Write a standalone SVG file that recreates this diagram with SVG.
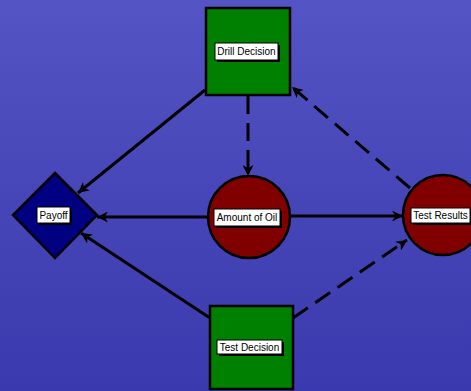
<svg xmlns="http://www.w3.org/2000/svg" width="471" height="391" viewBox="0 0 471 391">
  <defs>
    <linearGradient id="bg" x1="0" y1="0" x2="0" y2="1">
      <stop offset="0" stop-color="#5454c4"/>
      <stop offset="0.5" stop-color="#4646b8"/>
      <stop offset="1" stop-color="#3a3aae"/>
    </linearGradient>
    <marker id="arr" viewBox="0 0 10 10" refX="10" refY="5" markerWidth="11" markerHeight="11" markerUnits="userSpaceOnUse" orient="auto">
      <path d="M0,0 L10,5 L0,10 L3,5 Z" fill="#000"/>
    </marker>
  </defs>
  <style>
    .sq { fill: #008000; stroke: #000; stroke-width: 2.5; }
    .ci { fill: #800000; stroke: #000; stroke-width: 2.5; }
    .di { fill: #000080; stroke: #000; stroke-width: 2.5; }
    .lb { fill: #fff; stroke: #000; stroke-width: 1; }
    .sh { fill: #000; }
    .tx { font-family: "Liberation Sans", Arial, sans-serif; font-size: 10px; fill: #000; text-anchor: middle; dominant-baseline: central; }
    .ln { stroke: #000; stroke-width: 3; fill: none; marker-end: url(#arr); }
    .da { stroke-dasharray: 18 9; }
  </style>
  <rect width="471" height="391" fill="url(#bg)"/>
  <g id="connectors">
    <line class="ln" x1="205" y1="90" x2="78" y2="193"/>
    <line class="ln da" x1="248" y1="96" x2="248" y2="176"/>
    <line class="ln da" x1="410" y1="188" x2="292" y2="87"/>
    <line class="ln" x1="208" y1="217" x2="97" y2="217"/>
    <line class="ln" x1="291" y1="216" x2="403" y2="216"/>
    <line class="ln" x1="210" y1="318" x2="81" y2="233"/>
    <line class="ln da" x1="293" y1="318" x2="407" y2="240"/>
  </g>
  <g id="drill-decision">
    <rect class="sq" x="206" y="8" width="84" height="87"/>
    <rect class="sh" x="217" y="45" width="63" height="17"/>
    <rect class="lb" x="215" y="43" width="63" height="17"/>
    <text class="tx" x="246.5" y="51.5">Drill Decision</text>
  </g>
  <g id="payoff">
    <polygon class="di" points="55,173 97,215 55,258 13,215"/>
    <rect class="sh" x="39" y="209" width="33" height="16"/>
    <rect class="lb" x="37" y="207" width="33" height="16"/>
    <text class="tx" x="53.5" y="215">Payoff</text>
  </g>
  <g id="amount-of-oil">
    <circle class="ci" cx="249" cy="217" r="41"/>
    <rect class="sh" x="216" y="211" width="66" height="17"/>
    <rect class="lb" x="214" y="209" width="66" height="17"/>
    <text class="tx" x="247" y="217.5">Amount of Oil</text>
  </g>
  <g id="test-results">
    <circle class="ci" cx="443" cy="215" r="40"/>
    <rect class="sh" x="413" y="210" width="59" height="15"/>
    <rect class="lb" x="411" y="208" width="59" height="15"/>
    <text class="tx" x="440.5" y="215.5">Test Results</text>
  </g>
  <g id="test-decision">
    <rect class="sq" x="210" y="306" width="83" height="83"/>
    <rect class="sh" x="219" y="342" width="65" height="14"/>
    <rect class="lb" x="217" y="340" width="65" height="14"/>
    <text class="tx" x="249.5" y="347">Test Decision</text>
  </g>
</svg>
